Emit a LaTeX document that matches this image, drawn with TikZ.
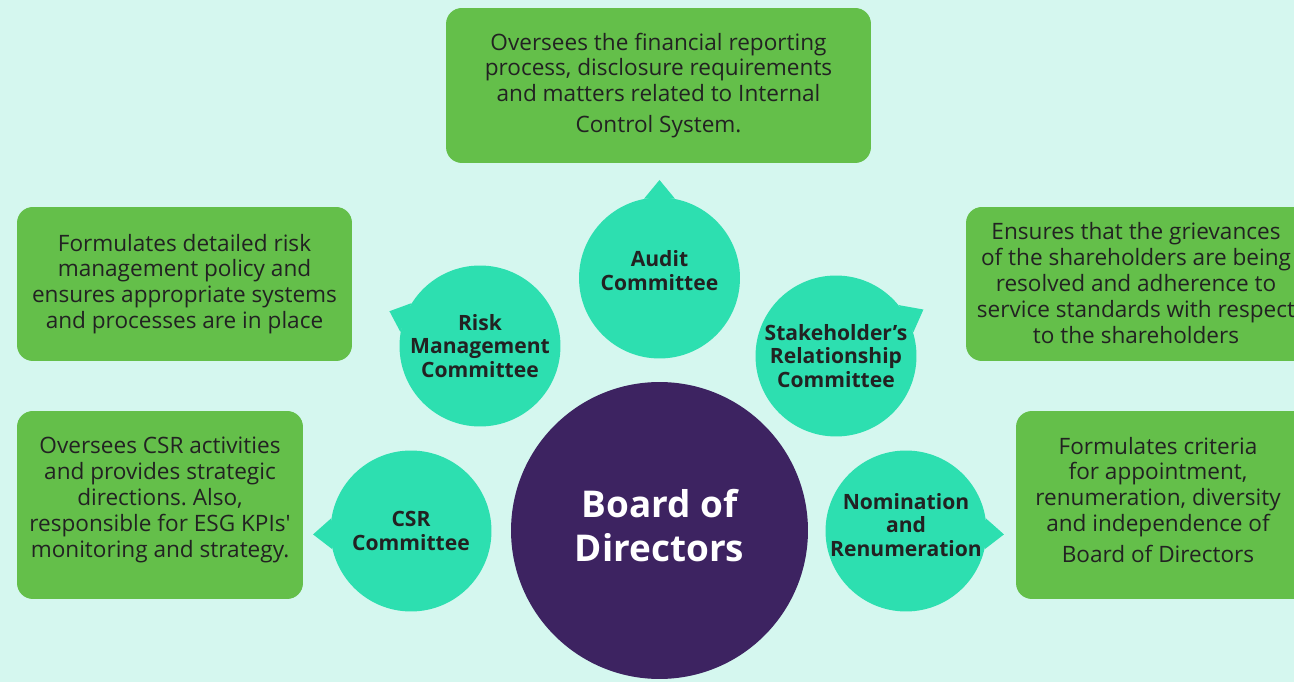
\documentclass[tikz,border=0pt]{standalone}
\usepackage{fontspec}
\setmainfont{Open Sans}
\newfontfamily\plainquote{Open Sans}[Ligatures=TeXOff]
\frenchspacing
\usetikzlibrary{calc}
\definecolor{mintbg}{HTML}{D5F7EF}
\definecolor{commteal}{HTML}{2DDFB0}
\definecolor{boardpurple}{HTML}{3D2361}
\definecolor{infogreen}{HTML}{64BF4A}
\definecolor{textdark}{HTML}{222222}

\begin{document}
\begin{tikzpicture}[
  x=0.02cm, y=0.02cm,
  infobox/.style={
    rectangle, rounded corners=9pt, fill=infogreen, inner sep=0pt,
    font=\fontsize{12.85}{14.7}\selectfont, text=textdark, align=center
  },
  infotext/.style={font=\fontsize{12.85}{14.7}\selectfont, text=textdark, align=center},
  comm/.style={
    circle, fill=commteal, minimum size=3.22cm, inner sep=0pt,
    font=\bfseries\fontsize{12}{13.6}\selectfont, text=textdark, align=center
  },
  commtext/.style={font=\bfseries\fontsize{12}{13.6}\selectfont, text=textdark, align=center},
  pointer/.style={fill=commteal},
  board/.style={
    circle, fill=boardpurple, minimum size=5.94cm, inner sep=0pt,
    font=\bfseries\fontsize{21}{25.5}\selectfont, text=white, align=center
  }
]
  \useasboundingbox (0,0) rectangle (1294,682);
  \clip (0,0) rectangle (1294,682);
  \fill[mintbg] (0,0) rectangle (1294,682);

  % Description boxes
  \node[infobox, minimum width=8.5cm, minimum height=3.1cm] (auditbox) at (658.5,596.5)
    {Oversees the financial reporting\\process, disclosure requirements\\and matters related to Internal\\[3pt]Control System.};
  \node[infobox, minimum width=6.7cm, minimum height=3.08cm] (riskbox) at (184.5,398)
    {Formulates detailed risk\\management policy and\\ensures appropriate systems\\and processes are in place};
  \node[infobox, minimum width=5.72cm, minimum height=3.76cm] (csrbox) at (160,177) {};
  \node[infotext] (csrtext) at (160,182)
    {Oversees CSR activities\\and provides strategic\\directions. Also,\\responsible for ESG KPIs{\plainquote'}\\monitoring and strategy.};
  \node[infobox, minimum width=7.4cm, minimum height=3.08cm] (stakebox) at (1151,398) {};
  \node[infotext] (staketext) at (1136,399)
    {Ensures that the grievances\\of the shareholders are being\\resolved and adherence to\\service standards with respect\\to the shareholders};
  \node[infobox, minimum width=6.6cm, minimum height=3.76cm] (nombox) at (1181,177) {};
  \node[infotext] (nomtext) at (1158,182)
    {Formulates criteria\\for appointment,\\renumeration, diversity\\and independence of\\[3pt]Board of Directors};

  % Committees
  \node[comm, label={[commtext, yshift=0.14cm]center:Audit\\Committee}] (audit) at (659.5,404) {};
  \node[comm] (risk) at (480,336) {Risk\\Management\\Committee};
  \node[comm] (stake) at (836,326) {Stakeholder’s\\Relationship\\Committee};
  \node[comm] (csr) at (411,151) {CSR\\Committee};
  \node[comm, label={[commtext, yshift=0.12cm]center:Nomination\\and\\Renumeration}] (nom) at (906,151) {};

  % Pointers
  \coordinate (audittip) at ($(audit.center)+(90:98)$);
  \coordinate (risktip) at ($(risk.center)+(159:97)$);
  \coordinate (staketip) at ($(stake.center)+(28:99)$);
  \coordinate (csrtip) at ($(csr.center)+(182:98)$);
  \coordinate (nomtip) at ($(nom.center)+(-2:98)$);
  \fill[pointer] (audit.79) -- (audittip) -- (audit.101) -- cycle;
  \fill[pointer] (risk.148) -- (risktip) -- (risk.170) -- cycle;
  \fill[pointer] (stake.17) -- (staketip) -- (stake.39) -- cycle;
  \fill[pointer] (csr.171) -- (csrtip) -- (csr.193) -- cycle;
  \fill[pointer] (nom.-13) -- (nomtip) -- (nom.9) -- cycle;

  % Board
  \node[board, label={[text=white, font=\bfseries\fontsize{21}{25.5}\selectfont,
    align=center, yshift=0.1cm]center:Board of\\Directors}] (bod) at (659.5,151.5) {};
\end{tikzpicture}
\end{document}
